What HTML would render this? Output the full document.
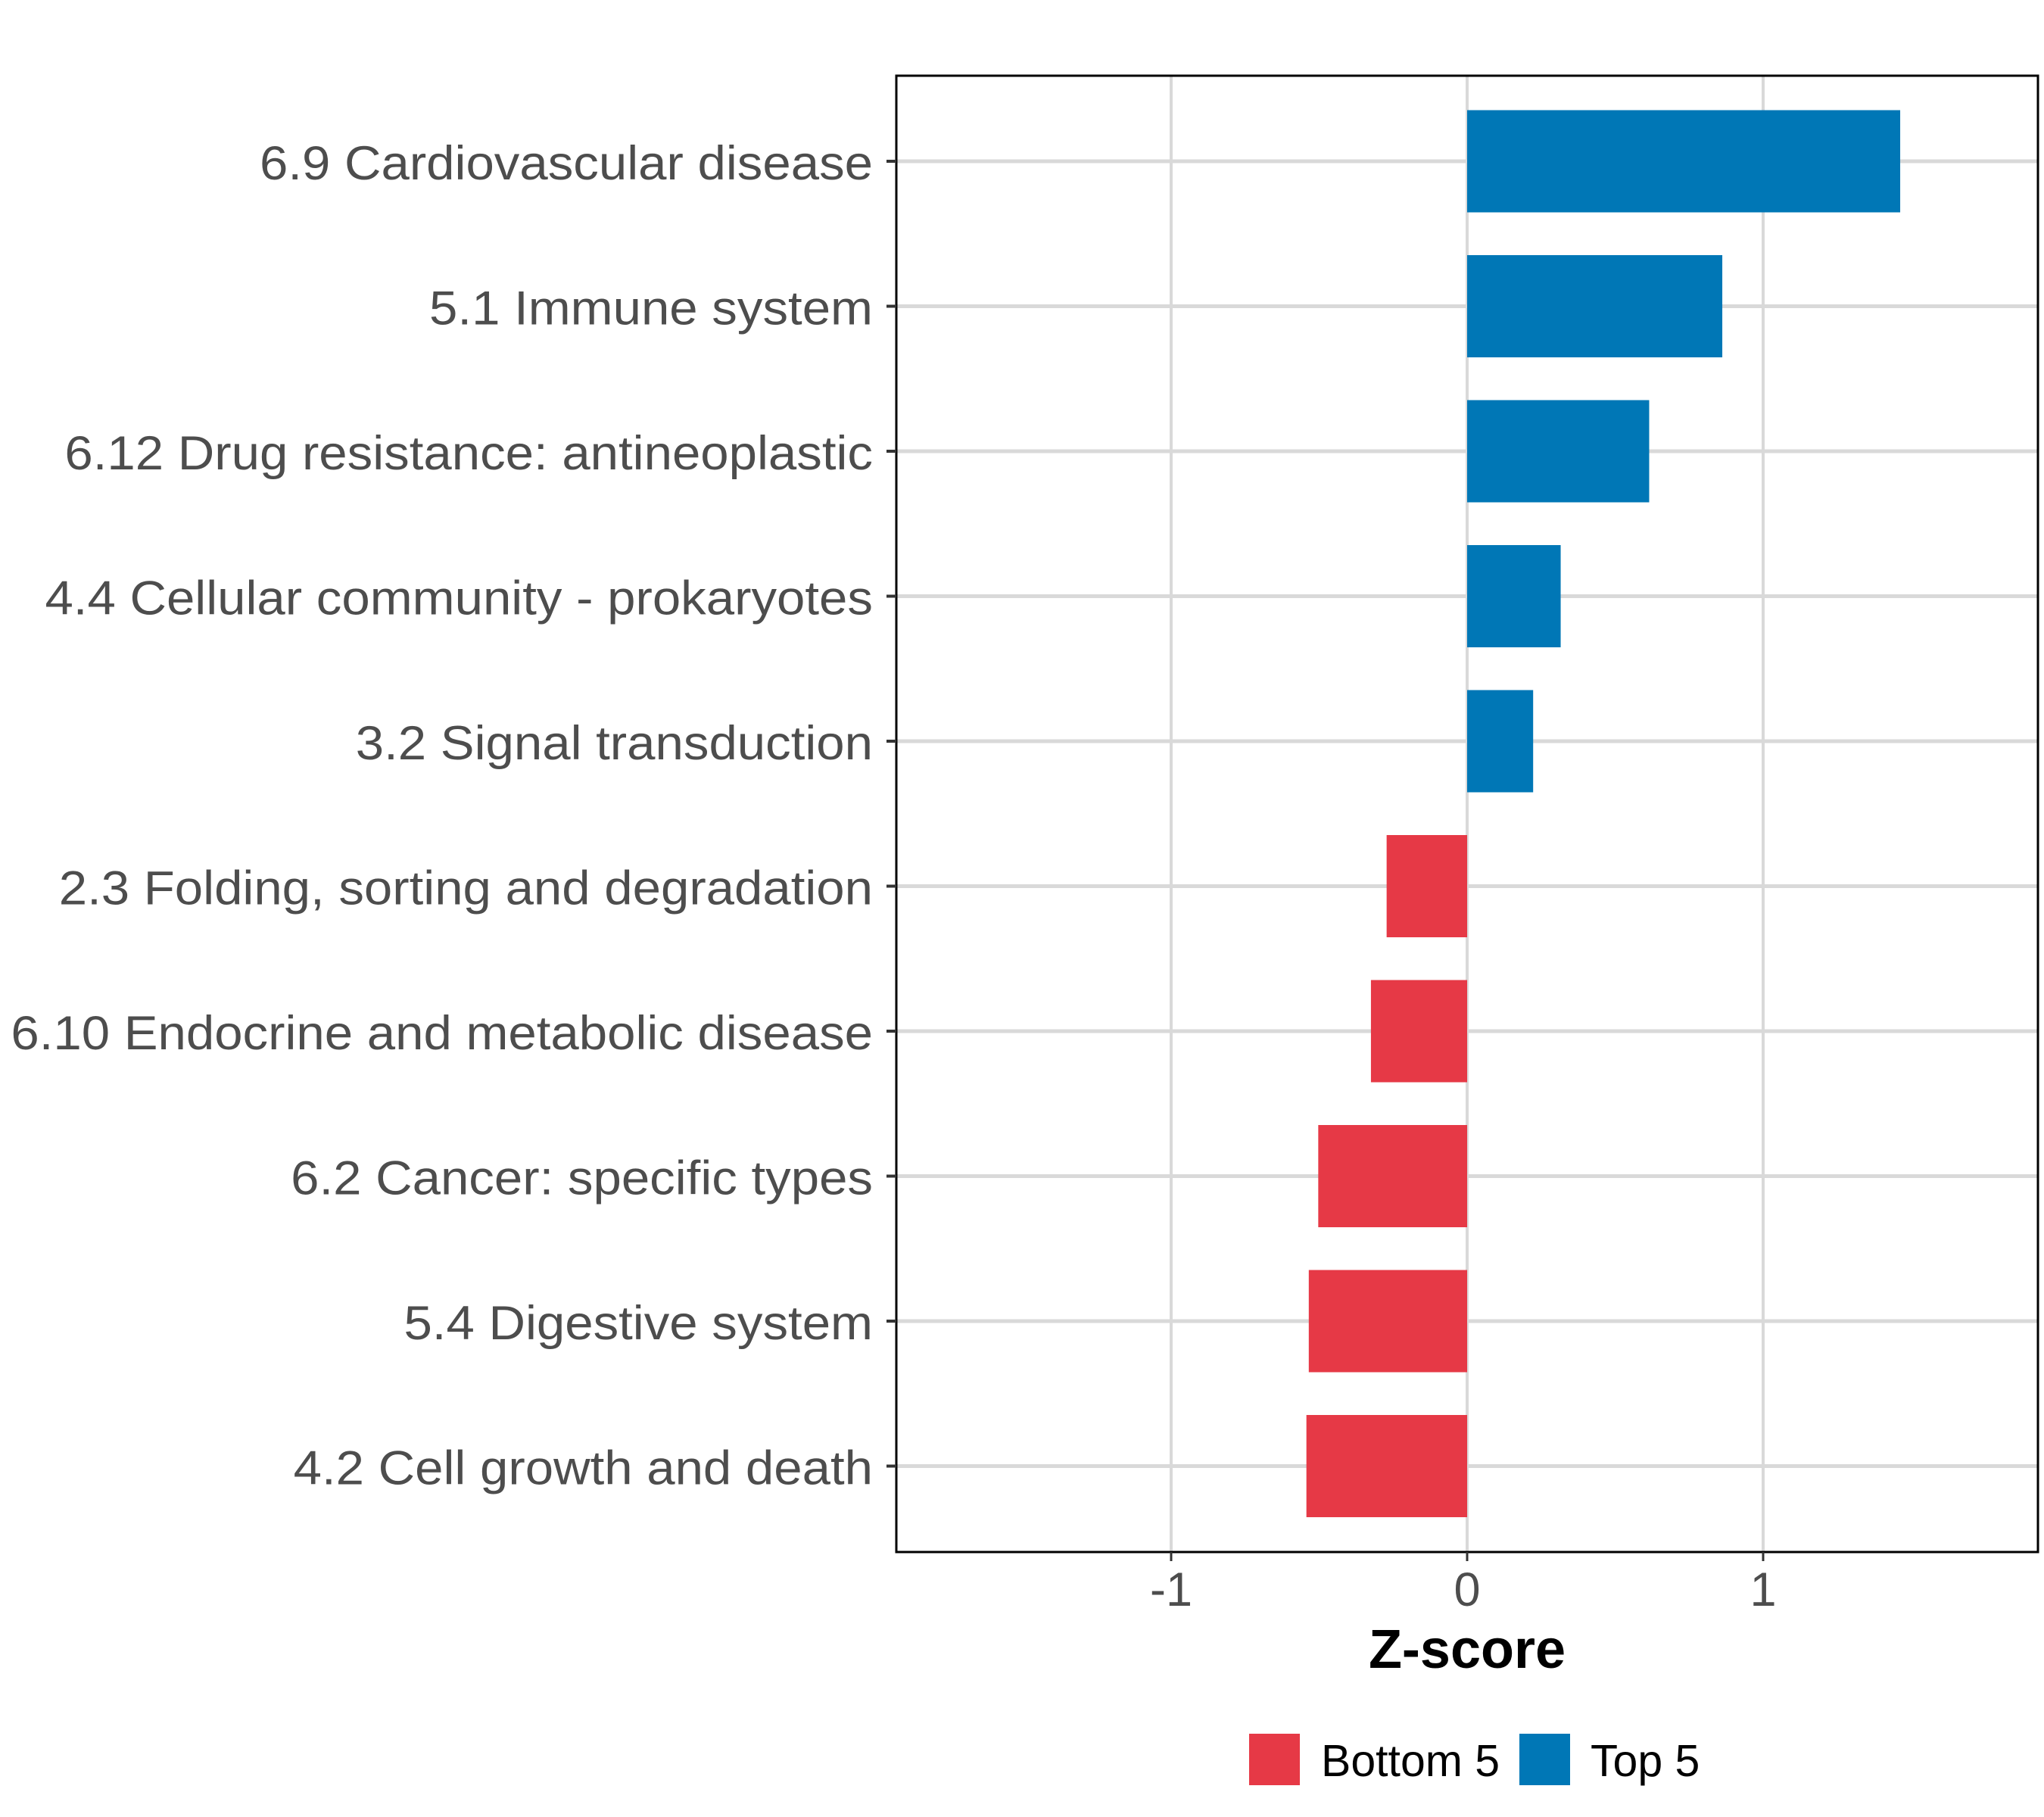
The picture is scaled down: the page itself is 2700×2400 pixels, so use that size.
<!DOCTYPE html>
<html><head><meta charset="utf-8"><style>
html,body{margin:0;padding:0;background:#fff;}
svg{display:block;font-family:"Liberation Sans",Arial,sans-serif;}
</style></head><body>
<svg id="chart" width="2700" height="2400" viewBox="0 0 2700 2400" xmlns="http://www.w3.org/2000/svg">
<rect x="0" y="0" width="2700" height="2400" fill="#fff"/>
<g id="grid"></g>
<g id="bars"></g>
<rect x="1184" y="100" width="1508" height="1950" fill="none" stroke="#000" stroke-width="3"/>
<g id="yaxis"></g>
<g id="xaxis"></g>
<text x="1938" y="2203" text-anchor="middle" font-size="72" font-weight="bold" fill="#000">Z-score</text>
<g>
<g>
<rect x="1650" y="2290" width="67" height="68" fill="#E63946"/>
<text x="1745" y="2346" font-size="59" fill="#000">Bottom 5</text>
</g>
<g>
<rect x="2007" y="2290" width="67" height="68" fill="#0077B6"/>
<text x="2101" y="2346" font-size="59" fill="#000">Top 5</text>
</g>
</g>
</svg>
<script>
const categories = ["6.9 Cardiovascular disease","5.1 Immune system","6.12 Drug resistance: antineoplastic","4.4 Cellular community - prokaryotes","3.2 Signal transduction","2.3 Folding, sorting and degradation","6.10 Endocrine and metabolic disease","6.2 Cancer: specific types","5.4 Digestive system","4.2 Cell growth and death"];
const zscores = [1.463, 0.862, 0.615, 0.316, 0.223, -0.272, -0.325, -0.503, -0.535, -0.543];
const groups = ["Top 5","Top 5","Top 5","Top 5","Top 5","Bottom 5","Bottom 5","Bottom 5","Bottom 5","Bottom 5"];
const xTicks = [-1, 0, 1];
const xTickLabels = ["-1","0","1"];

const NS = "http://www.w3.org/2000/svg";
const colors = {"Top 5":"#0077B6","Bottom 5":"#E63946"};
const panel = {l:1184, r:2692, t:100, b:2050};
function xs(v){ return 1938 + v*391; }
function ys(i){ return 213 + i*191.5; }
const bandH = 135;
function mk(tag, attrs, parent){ const e=document.createElementNS(NS,tag); for(const k in attrs) e.setAttribute(k,attrs[k]); parent.appendChild(e); return e; }
const grid=document.getElementById('grid'), bars=document.getElementById('bars'), ya=document.getElementById('yaxis'), xa=document.getElementById('xaxis');
categories.forEach((c,i)=>{
  const g = mk('line',{x1:panel.l,x2:panel.r,y1:ys(i),y2:ys(i),stroke:'#d9d9d9','stroke-width':5},grid);
  
  
});
xTicks.forEach((t,i)=>{
  const g = mk('line',{x1:xs(t),x2:xs(t),y1:panel.t,y2:panel.b,stroke:'#d9d9d9','stroke-width':4},grid);
  
  
  const tk = mk('line',{x1:xs(t),x2:xs(t),y1:panel.b,y2:panel.b+12,stroke:'#333','stroke-width':3},xa);
  
  
  const tl = mk('text',{x:xs(t),y:2121,'text-anchor':'middle','font-size':63,fill:'#4d4d4d'},xa);
  tl.textContent = xTickLabels[i];
  
  
});
categories.forEach((c,i)=>{
  const v = zscores[i];
  const x0 = Math.min(xs(0), xs(v)), w = Math.abs(xs(v)-xs(0));
  const b = mk('rect',{x:x0,y:ys(i)-bandH/2,width:w,height:bandH,fill:colors[groups[i]]},bars);
  
  
  const tk = mk('line',{x1:panel.l-13,x2:panel.l,y1:ys(i),y2:ys(i),stroke:'#333','stroke-width':4},ya);
  
  
  const tl = mk('text',{x:0,y:0,'text-anchor':'end','font-size':63,fill:'#4d4d4d',transform:'translate('+(panel.l-31)+','+(ys(i)+24)+') scale(1.066,1)'},ya);
  tl.textContent = c;
  
  
});
</script>
</body></html>
